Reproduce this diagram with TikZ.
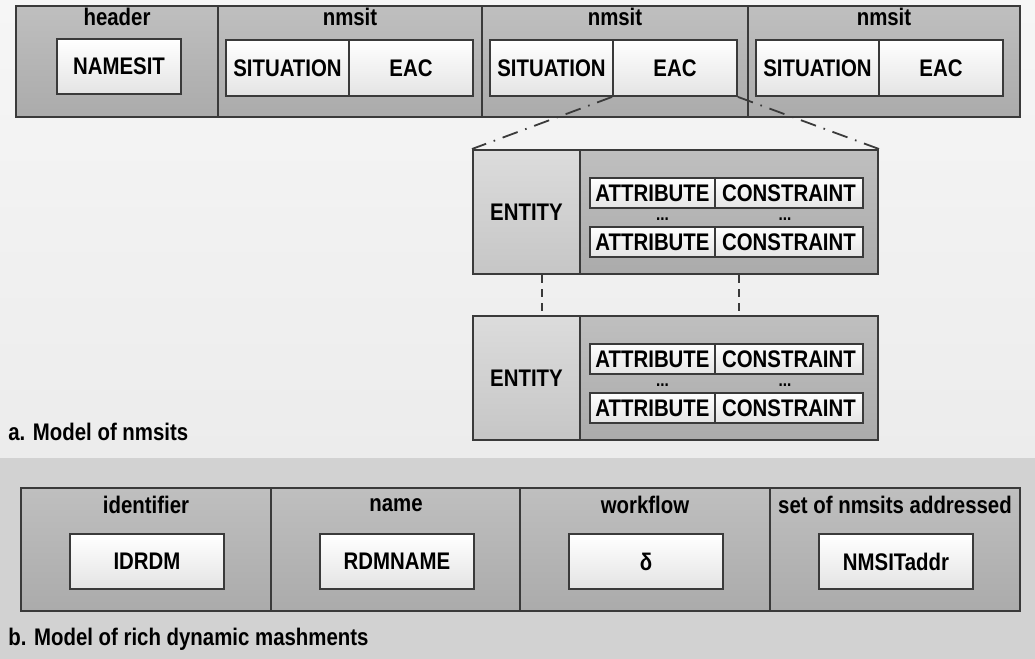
\documentclass[tikz,border=0pt]{standalone}
\usepackage{fontspec}
\setmainfont{Liberation Sans}[FakeStretch=0.85]
\usepackage{tikz}
\usetikzlibrary{fit,calc,positioning}
\definecolor{edge}{HTML}{3A3A3A}
\definecolor{bandtop}{HTML}{BFBFBF}
\definecolor{bandbot}{HTML}{ABABAB}
\definecolor{enttop}{HTML}{DCDCDC}
\definecolor{entbot}{HTML}{C6C6C6}
\definecolor{cellbot}{HTML}{E4E4E4}
\definecolor{paper}{HTML}{F6F6F6}
\definecolor{paperlow}{HTML}{ECECEC}
\definecolor{paperb}{HTML}{D2D2D2}

\begin{document}
\begin{tikzpicture}[x=0.5pt,y=-0.5pt,
  every node/.style={font=\fontsize{12}{14}\selectfont\bfseries},
  every label/.style={inner sep=0pt},
  band/.style={draw=edge, line width=1pt, top color=bandtop, bottom color=bandbot, inner sep=0pt},
  entbox/.style={band, top color=enttop, bottom color=entbot},
  cell/.style={draw=edge, line width=0.9pt, top color=white, bottom color=cellbot, inner sep=0pt},
  lbl/.style={inner sep=0pt},
  dots/.style={inner sep=0pt, font=\fontsize{9}{9}\selectfont\bfseries},
  caption/.style={inner sep=0pt, anchor=west, font=\fontsize{12}{14}\selectfont\bfseries},
  zoomline/.style={draw=edge, line width=0.9pt, dash pattern=on 8pt off 4pt on 0.8pt off 4pt},
  link/.style={draw=edge, line width=0.7pt, dash pattern=on 4pt off 3pt}]
\useasboundingbox (0,0) rectangle (1035,659);
\fill[top color=paper, bottom color=paperlow] (0,0) rectangle (1035,458);
\fill[paperb] (0,458) rectangle (1035,659);

% a. nmsits
\node[band, fit={(16,6) (218,117)}] (hdr) {};
\node[lbl] at ([yshift=-6pt]hdr.north) {header};
\node[cell, fit={(57,39) (181,94)}, label=center:NAMESIT] (namesit) {};
\foreach \i/\l/\r in {1/218/482, 2/482/748, 3/748/1020} {
  \node[band, fit={(\l,6) (\r,117)}] (sect\i) {};
  \node[lbl] at ([yshift=-6pt]sect\i.north) {nmsit};
  \node[cell, fit={({\l+8},40) ({\l+131},96)}, label=center:SITUATION] (sit\i) {};
  \node[cell, fit={({\l+131},40) ({\l+255},96)}, label=center:EAC] (eac\i) {};
}

\foreach \j/\t in {A/150, B/316} {
  \node[entbox, fit={(473,\t) (580,{\t+124})}, label=center:ENTITY] (ent\j) {};
  \node[band, fit={(580,\t) (878,{\t+124})}] (attrs\j) {};
  \node[cell, fit={(590,{\t+28}) (715,{\t+58})}, label=center:ATTRIBUTE] (atta\j) {};
  \node[cell, fit={(715,{\t+28}) (863,{\t+58})}, label=center:CONSTRAINT] (cona\j) {};
  \node[cell, fit={(590,{\t+77}) (715,{\t+107})}, label=center:ATTRIBUTE] (attb\j) {};
  \node[cell, fit={(715,{\t+77}) (863,{\t+107})}, label=center:CONSTRAINT] (conb\j) {};
  \node[dots] at ($(atta\j.south)!0.5!(attb\j.north)+(5pt,-1pt)$) {...};
  \node[dots] at ($(cona\j.south)!0.5!(conb\j.north)+(-2pt,-1pt)$) {...};
}
\draw[zoomline] (eac2.south west) -- (entA.north west);
\draw[zoomline] (eac2.south east) -- (attrsA.north east);
\draw[link] ([xshift=7.75pt]entA.south) -- ([xshift=7.75pt]entB.north);
\draw[link] ([xshift=5pt]attrsA.south) -- ([xshift=5pt]attrsB.north);
\node[caption] (capa) at (8,432) {a. Model of nmsits};

% b. rich dynamic mashments
\foreach \k/\l/\txt/\val in {1/21/identifier/IDRDM, 2/271/name/RDMNAME, 3/520/workflow/δ, 4/770/set of nmsits addressed/NMSITaddr} {
  \node[band, fit={(\l,488) ({\l+250},611)}] (fld\k) {};
  \node[lbl] at ([yshift=-9pt]fld\k.north) {\txt};
  \node[cell, fit={({\l+49},534) ({\l+203},589)}, label=center:\val] (val\k) {};
}
\node[caption] (capb) at (8,639) {b. Model of rich dynamic mashments};
\end{tikzpicture}
\end{document}
